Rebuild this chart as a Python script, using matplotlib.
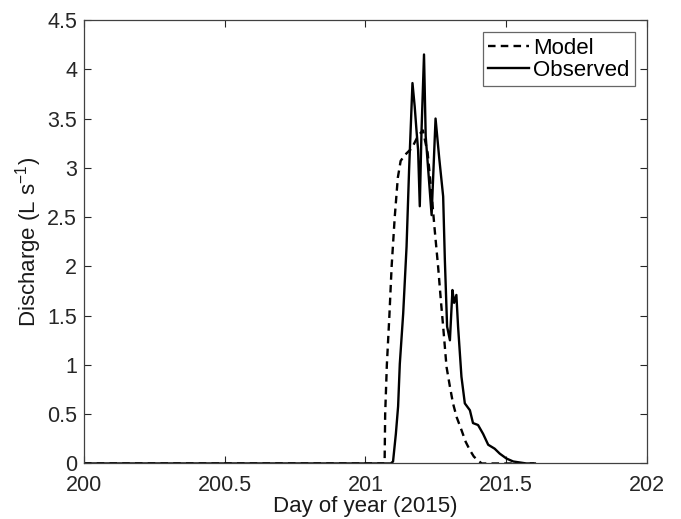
import numpy as np
import matplotlib
matplotlib.use("Agg")
import matplotlib.pyplot as plt

plt.rcParams['font.family'] = ['Liberation Sans', 'DejaVu Sans']
plt.rcParams['mathtext.default'] = 'regular'

# Model (dashed) - day of year vs discharge
model_day = [200.0, 201.068, 201.070, 201.076, 201.085, 201.093, 201.104, 201.115,
             201.125, 201.140, 201.165, 201.186, 201.204, 201.221, 201.236, 201.246,
             201.258, 201.268, 201.276, 201.288, 201.300, 201.311, 201.324, 201.341,
             201.356, 201.371, 201.385, 201.400, 201.413, 201.60]
model_q = [0.0, 0.0, 0.5, 1.0, 1.5, 2.0, 2.5, 2.9,
           3.07, 3.13, 3.2, 3.32, 3.38, 3.15, 2.7, 2.37,
           2.0, 1.65, 1.39, 0.98, 0.78, 0.61, 0.47, 0.34,
           0.22, 0.135, 0.07, 0.03, 0.0, 0.0]

# Observed (solid)
obs_day = [200.0, 201.090, 201.098, 201.108, 201.116, 201.122, 201.134, 201.146,
           201.155, 201.167, 201.175, 201.181, 201.187, 201.193, 201.199, 201.208,
           201.214, 201.235, 201.249, 201.262, 201.276, 201.282, 201.290, 201.300,
           201.309, 201.315, 201.323, 201.329, 201.341, 201.353, 201.371, 201.382,
           201.400, 201.418, 201.436, 201.459, 201.477, 201.501, 201.525, 201.572,
           201.602]
obs_q = [0.0, 0.0, 0.02, 0.3, 0.58, 1.01, 1.52, 2.2,
         2.98, 3.86, 3.62, 3.39, 3.18, 2.61, 3.36, 4.15,
         3.32, 2.52, 3.5, 3.1, 2.71, 2.07, 1.39, 1.25,
         1.76, 1.63, 1.71, 1.39, 0.88, 0.61, 0.54, 0.41,
         0.39, 0.30, 0.19, 0.15, 0.10, 0.05, 0.02, 0.0, 0.0]

xticks = [200, 200.5, 201, 201.5, 202]
xtick_labels = ['200', '200.5', '201', '201.5', '202']
yticks = np.arange(0, 4.51, 0.5)
ytick_labels = ['0', '0.5', '1', '1.5', '2', '2.5', '3', '3.5', '4', '4.5']

fig = plt.figure(figsize=(6.81, 5.19), dpi=100)
ax = fig.add_axes([0.1233, 0.107, 0.8267, 0.8545])

ax.plot(model_day, model_q, '--', color='black', lw=1.7, dashes=(3.2, 2.2), label='Model')
ax.plot(obs_day, obs_q, '-', color='black', lw=1.7, label='Observed')

ax.set_xlim(200, 202)
ax.set_ylim(0, 4.5)
ax.set_xticks(xticks)
ax.set_xticklabels(xtick_labels)
ax.set_yticks(yticks)
ax.set_yticklabels(ytick_labels)
ax.tick_params(direction='in', top=True, right=True, labelsize=15.5,
               colors='0.15', length=5, width=0.8)
ax.tick_params(axis='x', pad=8)
ax.tick_params(axis='y', pad=5)
for s in ax.spines.values():
    s.set_color('0.25')
    s.set_linewidth(0.9)

ax.set_xlabel('Day of year (2015)', fontsize=16, color='0.1', labelpad=0)
ax.set_ylabel('Discharge (L s$^{-1}$)', fontsize=16, color='0.1', labelpad=2)

leg = ax.legend(loc='upper right', fontsize=16, frameon=True, fancybox=False,
                edgecolor='0.25', handlelength=1.85, handletextpad=0.15,
                borderpad=0.25, labelspacing=0.05, borderaxespad=0.55)
leg.get_frame().set_linewidth(0.9)

fig.savefig('out.png', dpi=100)
